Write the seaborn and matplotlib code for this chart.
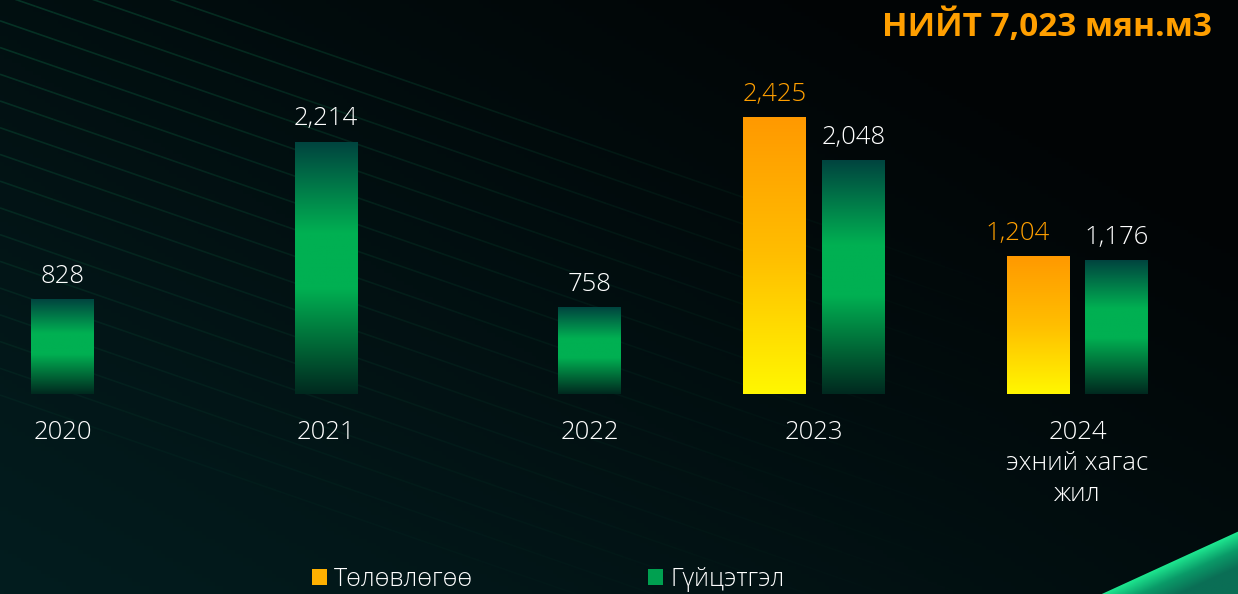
import numpy as np
import pandas as pd
import matplotlib
matplotlib.use("Agg")
import matplotlib.pyplot as plt
import seaborn as sns
from matplotlib.colors import LinearSegmentedColormap, to_rgb
from matplotlib.patches import Patch, Polygon

# data (мян.м3)
years = ["2020", "2021", "2022", "2023", "2024\nэхний хагас\nжил"]
plan = [np.nan, np.nan, np.nan, 2425, 1204]
actual = [828, 2214, 758, 2048, 1176]
series = ["Төлөвлөгөө", "Гүйцэтгэл"]
title = "НИЙТ 7,023 мян.м3"

df = pd.DataFrame({
    "year": years * 2,
    "series": [series[0]] * len(years) + [series[1]] * len(years),
    "value": plan + actual,
})

ORANGE = "#ff9f00"
GREEN = "#00b052"
plan_cmap = LinearSegmentedColormap.from_list("plan", ["#ff9900", "#ffbe00", "#fff700"])
act_cmap = LinearSegmentedColormap.from_list(
    "act", [(0.0, "#00443f"), (0.36, "#00b052"), (0.58, "#00b052"), (1.0, "#00291f")])

sns.set_style("dark")
FONT = ["Open Sans", "DejaVu Sans"]
plt.rcParams["font.family"] = FONT

fig = plt.figure(figsize=(12.38, 5.94), dpi=100)
ax = fig.add_axes([0, 0, 1, 1])

# background: teal bottom-left fading to black top-right
gx, gy = np.meshgrid(np.linspace(0, 1, 300), np.linspace(0, 1, 150))
t = np.clip(0.65 * gx + 0.55 * (1 - gy), 0, 1)
c0 = np.array(to_rgb("#031d1f"))
c1 = np.array(to_rgb("#010405"))
bg = c0[None, None, :] * (1 - t[..., None]) + c1[None, None, :] * t[..., None]
ax.imshow(bg, extent=[0, 1, 0, 1], transform=ax.transAxes, aspect="auto",
          origin="upper", zorder=0)

# faint diagonal lines top-left
for k in range(18):
    y0 = 1.10 - k * 0.045
    xs = np.linspace(0, 0.85, 60)
    ys = y0 - xs * 0.72
    alpha = 0.45 * (1 - k / 22)
    for i in range(len(xs) - 1):
        a = alpha * (1 - xs[i] / 0.85) ** 1.3
        ax.plot(xs[i:i + 2], ys[i:i + 2], color="#0d6a45", lw=1.2, alpha=a,
                transform=ax.transAxes, zorder=1, solid_capstyle="butt")

# green corner wedge, bright along the slanted edge
wedge = Polygon([[0.89, 0], [1.0, 0.105], [1.0, 0]], closed=True,
                transform=ax.transAxes, facecolor="none", edgecolor="none", zorder=2)
ax.add_patch(wedge)
wx, wy = np.meshgrid(np.linspace(0.89, 1, 120), np.linspace(0.105, 0, 60))
d = np.clip(((wx - 0.89) * 0.105 / 0.11 - wy) / 0.06, 0, 1)
wimg = ax.imshow(d, extent=[0.89, 1, 0, 0.105], transform=ax.transAxes,
                 aspect="auto", origin="upper",
                 cmap=LinearSegmentedColormap.from_list("w", ["#1ee890", "#0a9a68", "#0a6e55"]),
                 zorder=2)
wimg.set_clip_path(wedge)

sns.barplot(data=df, x="year", y="value", hue="series", hue_order=series,
            width=0.596, gap=0.2, palette=[ORANGE, GREEN], saturation=1,
            legend=False, ax=ax, zorder=3)

# gradient fills for bars
bar_x = {}
for patch in list(ax.patches):
    if patch is wedge:
        continue
    h = patch.get_height()
    if not np.isfinite(h) or h == 0:
        continue
    x0, w = patch.get_x(), patch.get_width()
    is_plan = np.allclose(to_rgb(patch.get_facecolor()), to_rgb(ORANGE))
    cmap = plan_cmap if is_plan else act_cmap
    grad = np.linspace(0, 1, 256)[:, None]
    ax.imshow(grad, extent=[x0, x0 + w, 0, h], aspect="auto", cmap=cmap,
              origin="upper", zorder=4)
    patch.set_facecolor("none")
    patch.set_edgecolor("none")
    cx = x0 + w / 2
    bar_x.setdefault(int(round(cx)), []).append(cx)
    # the 2024 plan label sits a little left of its bar in the original
    dx = -15 if (is_plan and cx > 3.5) else 0
    ax.annotate(f"{h:,.0f}", (cx, h), xytext=(dx, 12), textcoords="offset points",
                ha="center", va="baseline", fontsize=18.5, fontweight="light",
                color=ORANGE if is_plan else "white", zorder=5)

ax.set_xlim(-0.089, 4.609)
ax.set_ylim(-1757, 3462)

# category labels centred under their bars
for i, lab in enumerate(years):
    xs_ = bar_x.get(i, [i])
    ax.annotate(lab, (np.mean(xs_), 0), xytext=(0, -19), textcoords="offset points",
                ha="center", va="top", fontsize=18.5, fontweight="light", color="white",
                linespacing=1.3, zorder=5)

ax.set_xticks([])
ax.set_yticks([])
ax.set_xlabel("")
ax.set_ylabel("")
for s in ax.spines.values():
    s.set_visible(False)

ax.text(0.979, 0.94, title, transform=ax.transAxes, ha="right", va="baseline",
        fontsize=24, fontweight="bold", color=ORANGE, zorder=6)

handles = [Patch(facecolor="#ffb000", edgecolor="none", label=series[0]),
           Patch(facecolor="#00a050", edgecolor="none", label=series[1])]
ax.legend(handles=handles, loc="center", bbox_to_anchor=(0.443, 0.025),
          ncol=2, frameon=False, prop={"family": FONT, "size": 18, "weight": "light"},
          handlelength=0.6, handleheight=0.6, handletextpad=0.3,
          columnspacing=7.0, labelcolor="white")

fig.savefig("out.png", dpi=100, facecolor="black")
